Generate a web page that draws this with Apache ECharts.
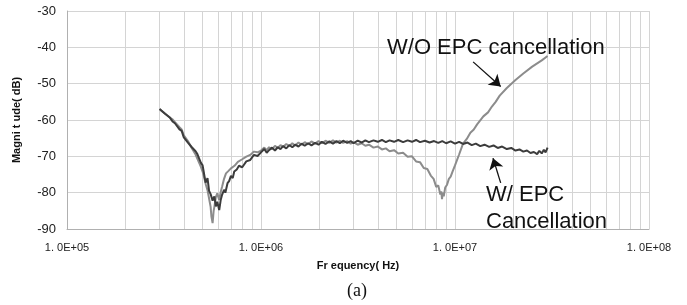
<!DOCTYPE html>
<html>
<head>
<meta charset="utf-8">
<script src="https://cdn.jsdelivr.net/npm/echarts@6/dist/echarts.min.js"></script>
<style>
  html, body { margin: 0; padding: 0; background: #fff; }
  #main { width: 687px; height: 305px; }
</style>
</head>
<body>
<div id="main"></div>
<script>
// frequency (Hz), magnitude (dB)
var withEPC = [
  [3.0e5,-57.0],[3.2e5,-58.3],[3.4e5,-59.4],[3.5e5,-60.4],[3.6e5,-60.9],[3.8e5,-62.6],[3.9e5,-63.0],[4.0e5,-64.8],
  [4.2e5,-66.2],[4.4e5,-67.5],[4.6e5,-68.6],[4.7e5,-69.4],[4.8e5,-70.6],[4.9e5,-71.8],
  [5.0e5,-72.5],[5.08e5,-74.6],[5.18e5,-77.2],[5.3e5,-76.0],[5.4e5,-79.5],[5.5e5,-80.4],
  [5.63e5,-82.2],[5.75e5,-81.0],[5.85e5,-83.8],[5.95e5,-82.5],[6.09e5,-84.8],[6.2e5,-82.0],
  [6.3e5,-80.6],[6.45e5,-79.2],[6.55e5,-80.0],[6.72e5,-77.4],[6.85e5,-76.8],[7.0e5,-75.4],
  [7.15e5,-76.0],[7.28e5,-74.2],[7.5e5,-73.6],[7.7e5,-72.6],[8.0e5,-73.0],[8.4e5,-71.4],
  [8.8e5,-71.0],[9.2e5,-69.6],[9.6e5,-69.9],
  [1.0e6,-68.9],[1.04e6,-68.0],[1.07e6,-69.0],[1.1e6,-68.3],[1.14e6,-67.6],[1.18e6,-68.4],[1.22e6,-67.5],
  [1.26e6,-68.0],[1.3e6,-67.2],[1.35e6,-67.8],[1.4e6,-66.9],[1.45e6,-67.5],[1.5e6,-66.8],[1.56e6,-67.3],
  [1.62e6,-66.5],[1.68e6,-67.1],[1.75e6,-66.4],[1.82e6,-67.0],[1.9e6,-66.3],[1.98e6,-66.8],[2.06e6,-66.0],
  [2.15e6,-66.6],[2.25e6,-65.9],[2.35e6,-66.5],[2.45e6,-65.8],[2.55e6,-66.4],[2.65e6,-65.7],[2.78e6,-66.3],
  [2.9e6,-65.8],[3.0e6,-66.4],[3.15e6,-65.7],[3.3e6,-66.2],[3.45e6,-65.6],[3.6e6,-66.1],[3.8e6,-65.6],
  [4.0e6,-66.0],[4.2e6,-65.5],[4.4e6,-66.1],[4.6e6,-65.6],[4.85e6,-66.0],[5.1e6,-65.5],[5.4e6,-66.1],
  [5.7e6,-65.6],[6.0e6,-66.0],[6.3e6,-65.5],[6.6e6,-66.1],[7.0e6,-65.7],[7.4e6,-66.2],[7.8e6,-65.8],
  [8.2e6,-66.3],[8.6e6,-65.8],[9.0e6,-66.4],[9.5e6,-65.9],[1.0e7,-66.5],[1.05e7,-66.0],[1.1e7,-66.6],
  [1.16e7,-66.2],[1.22e7,-66.9],[1.28e7,-66.5],[1.35e7,-67.2],[1.42e7,-66.8],[1.5e7,-67.4],[1.58e7,-67.0],
  [1.66e7,-67.7],[1.75e7,-67.3],[1.85e7,-68.0],[1.95e7,-67.7],[2.05e7,-68.4],[2.15e7,-68.1],[2.25e7,-68.7],
  [2.35e7,-68.4],[2.45e7,-69.1],[2.55e7,-68.8],[2.65e7,-69.4],[2.72e7,-68.5],[2.8e7,-69.2],[2.87e7,-68.2],
  [2.93e7,-68.9],[3.0e7,-67.6]
];
var withoutEPC = [
  [3.0e5,-57.0],[3.2e5,-58.2],[3.4e5,-59.4],[3.5e5,-59.8],[3.6e5,-60.6],[3.8e5,-62.0],[3.9e5,-62.6],[4.0e5,-64.2],
  [4.2e5,-65.8],[4.4e5,-67.8],[4.6e5,-69.5],[4.8e5,-71.8],[4.9e5,-72.9],[5.0e5,-74.2],
  [5.08e5,-75.6],[5.2e5,-77.8],[5.3e5,-79.3],[5.4e5,-81.6],[5.5e5,-83.9],[5.55e5,-86.5],
  [5.63e5,-88.4],[5.7e5,-85.0],[5.75e5,-83.9],[5.85e5,-81.2],[5.95e5,-80.2],[6.09e5,-82.0],
  [6.2e5,-79.8],[6.3e5,-78.4],[6.45e5,-76.2],[6.6e5,-74.7],[6.8e5,-74.0],[7.0e5,-73.3],
  [7.3e5,-72.6],[7.6e5,-71.5],[8.0e5,-70.8],[8.4e5,-70.1],[8.8e5,-69.6],[9.2e5,-68.7],
  [9.6e5,-68.9],
  [1.0e6,-68.4],[1.04e6,-67.6],[1.07e6,-68.3],[1.1e6,-67.5],[1.14e6,-68.0],[1.18e6,-67.1],[1.22e6,-67.7],
  [1.26e6,-66.9],[1.3e6,-67.4],[1.35e6,-66.6],[1.4e6,-67.2],[1.45e6,-66.4],[1.5e6,-67.0],[1.56e6,-66.2],
  [1.62e6,-66.8],[1.68e6,-66.1],[1.75e6,-66.7],[1.82e6,-65.9],[1.9e6,-66.5],[1.98e6,-65.8],[2.06e6,-66.4],
  [2.15e6,-65.7],[2.25e6,-66.3],[2.35e6,-65.6],[2.45e6,-66.2],[2.55e6,-65.7],[2.65e6,-66.3],[2.78e6,-65.8],
  [2.9e6,-66.5],[3.0e6,-66.1],[3.15e6,-66.8],[3.3e6,-66.4],[3.45e6,-67.1],[3.6e6,-66.8],[3.8e6,-67.6],
  [4.0e6,-67.3],[4.2e6,-68.1],[4.4e6,-67.8],[4.6e6,-68.6],[4.85e6,-68.3],[5.1e6,-69.2],[5.4e6,-69.0],
  [5.7e6,-70.1],[6.0e6,-70.0],[6.3e6,-71.4],[6.6e6,-71.6],[6.9e6,-73.2],[7.2e6,-73.5],[7.5e6,-75.3],
  [7.76e6,-76.2],[8.0e6,-78.4],[8.2e6,-78.0],[8.4e6,-80.5],[8.5e6,-79.6],[8.57e6,-81.8],[8.65e6,-80.0],
  [8.75e6,-81.0],[8.9e6,-78.6],[9.1e6,-77.8],[9.3e6,-76.2],[9.5e6,-75.6],[9.7e6,-74.3],[1.0e7,-72.5],
  [1.05e7,-69.5],[1.1e7,-66.5],[1.15e7,-65.2],[1.2e7,-63.5],[1.25e7,-62.6],[1.3e7,-61.2],[1.4e7,-59.0],
  [1.48e7,-57.9],[1.55e7,-56.3],[1.62e7,-55.0],[1.7e7,-53.3],[1.85e7,-51.2],[2.05e7,-49.0],
  [2.25e7,-47.2],[2.5e7,-45.3],[2.8e7,-43.6],[3.0e7,-42.4]
];
// minor log grid lines (2..9 per decade)
var minorGrid = [
  2e5,3e5,4e5,5e5,6e5,7e5,8e5,9e5,
  2e6,3e6,4e6,5e6,6e6,7e6,8e6,9e6,
  2e7,3e7,4e7,5e7,6e7,7e7,8e7,9e7
];
var yTicks = { min: -90, max: -30, step: 10 };
// annotation arrows (start, end) in data coordinates
var arrowWO = [[1.24e7, -44.0], [1.72e7, -50.8]];
var arrowW = [[1.72e7, -77.3], [1.57e7, -70.5]];

var myChart = echarts.init(document.getElementById('main'));

var gridColor = '#d4d4d4';
var txt = 'Liberation Sans, Arial, sans-serif';

var option = {
  animation: false,
  grid: { left: 67, right: 38, top: 11, bottom: 76 },
  xAxis: {
    type: 'log',
    logBase: 10,
    min: 1e5,
    max: 1e8,
    name: 'Fr equency( Hz)',
    nameLocation: 'middle',
    nameGap: 31,
    nameTextStyle: { fontFamily: txt, fontSize: 11, fontWeight: 'bold', color: '#111' },
    axisLine: { lineStyle: { color: '#b0b0b0' } },
    axisTick: { show: false },
    axisLabel: {
      margin: 13,
      fontFamily: txt, fontSize: 11, color: '#222',
      formatter: function (v) {
        var e = Math.round(Math.log10(v));
        return '1. 0E+' + (e < 10 ? '0' + e : e);
      }
    },
    splitLine: { show: true, lineStyle: { color: gridColor, width: 1 } }
  },
  yAxis: {
    type: 'value',
    min: yTicks.min,
    max: yTicks.max,
    interval: yTicks.step,
    name: 'Magni t ude( dB)',
    nameLocation: 'middle',
    nameRotate: 90,
    nameGap: 45,
    nameTextStyle: { fontFamily: txt, fontSize: 11, fontWeight: 'bold', color: '#111' },
    axisLine: { show: true, lineStyle: { color: '#b0b0b0' } },
    axisTick: { show: false },
    axisLabel: { margin: 11, fontFamily: txt, fontSize: 13, color: '#222' },
    splitLine: { show: true, lineStyle: { color: gridColor, width: 1 } }
  },
  series: [
    {
      name: 'grid',
      type: 'line',
      data: [],
      silent: true,
      z: 1,
      markLine: {
        silent: true,
        z: 1,
        symbol: ['none', 'none'],
        label: { show: false },
        lineStyle: { color: gridColor, width: 1, type: 'solid' },
        data: minorGrid.map(function (v) { return { xAxis: v }; })
      }
    },
    {
      name: 'W/O EPC cancellation',
      type: 'line',
      data: withoutEPC,
      showSymbol: false,
      lineStyle: { color: '#8c8c8c', width: 2 },
      z: 3,
      markLine: {
        silent: true,
        symbol: ['none', 'arrow'],
        symbolSize: 11,
        label: { show: false },
        lineStyle: { color: '#111', width: 1.3, type: 'solid' },
        data: [
          [{ coord: arrowWO[0] }, { coord: arrowWO[1] }],
          [{ coord: arrowW[0] }, { coord: arrowW[1] }]
        ]
      }
    },
    {
      name: 'W/ EPC Cancellation',
      type: 'line',
      data: withEPC,
      showSymbol: false,
      lineStyle: { color: '#3c3c3c', width: 2 },
      z: 4
    }
  ],
  graphic: [
    { type: 'text', z: 100, left: 387, top: 37, style: { text: 'W/O EPC cancellation', font: '22px ' + txt, fill: '#111' } },
    { type: 'text', z: 100, left: 486, top: 184, style: { text: 'W/ EPC', font: '22px ' + txt, fill: '#111' } },
    { type: 'text', z: 100, left: 486, top: 211, style: { text: 'Cancellation', font: '22px ' + txt, fill: '#111' } },
    { type: 'text', z: 100, left: 347, top: 282, style: { text: '(a)', font: '18px Liberation Serif, Times New Roman, serif', fill: '#111' } }
  ]
};

myChart.setOption(option);
</script>
</body>
</html>
